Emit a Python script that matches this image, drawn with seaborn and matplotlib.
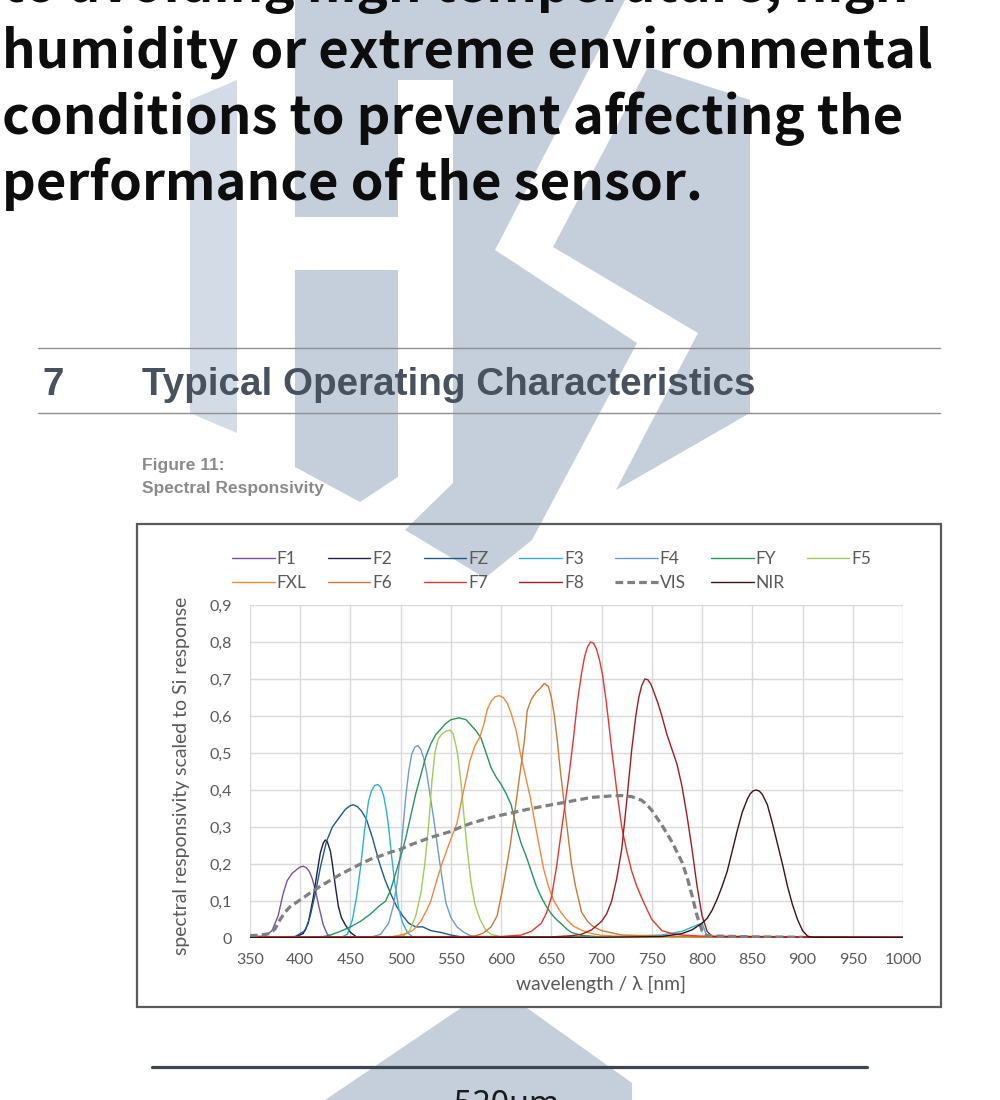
import matplotlib
matplotlib.use("Agg")
import matplotlib.pyplot as plt
import seaborn as sns
from matplotlib.patches import Polygon, Rectangle
from matplotlib.ticker import FuncFormatter

# ---- spectral responsivity curves ----
f1_nm = [350, 365, 372, 378, 383, 387, 392, 397, 400, 403, 406, 409, 412, 415, 419, 423, 427, 432, 500, 600, 700,
         800, 900, 1000]
f1_val = [0.004, 0.005, 0.02, 0.06, 0.12, 0.155, 0.175, 0.186, 0.192, 0.194, 0.19, 0.18, 0.16, 0.13, 0.08, 0.035,
          0.01, 0.002, 0.001, 0.001, 0.002, 0.002, 0.001, 0.001]

f2_nm = [350, 395, 403, 408, 413, 417, 420, 423, 425, 427, 430, 432, 435, 438, 441, 445, 450, 456, 500, 600, 700,
         800, 900, 1000]
f2_val = [0.002, 0.003, 0.012, 0.04, 0.11, 0.18, 0.23, 0.257, 0.265, 0.26, 0.235, 0.2, 0.14, 0.085, 0.055, 0.035,
          0.015, 0.003, 0.001, 0.001, 0.001, 0.001, 0.001, 0.001]

fz_nm = [350, 395, 405, 410, 415, 420, 426, 432, 440, 445, 450, 453, 457, 461, 466, 472, 478, 484, 490, 496, 502,
         508, 515, 522, 530, 540, 550, 560, 650, 800, 1000]
fz_val = [0.002, 0.004, 0.02, 0.06, 0.12, 0.19, 0.26, 0.3, 0.33, 0.348, 0.358, 0.36, 0.355, 0.343, 0.32, 0.27,
          0.21, 0.16, 0.12, 0.085, 0.06, 0.04, 0.03, 0.03, 0.02, 0.015, 0.008, 0.003, 0.002, 0.002, 0.001]

f3_nm = [350, 440, 447, 452, 456, 460, 464, 468, 471, 474, 477, 480, 483, 486, 488, 491, 494, 498, 502, 507, 512,
         600, 700, 760, 780, 795, 800, 805, 1000]
f3_val = [0.001, 0.001, 0.01, 0.05, 0.11, 0.19, 0.29, 0.37, 0.398, 0.412, 0.415, 0.408, 0.385, 0.34, 0.3, 0.22,
          0.15, 0.08, 0.04, 0.014, 0.003, 0.002, 0.003, 0.008, 0.018, 0.035, 0.04, 0.003, 0.001]

f4_nm = [350, 470, 480, 488, 493, 497, 501, 505, 508, 511, 514, 517, 520, 523, 526, 529, 533, 537, 541, 545, 550,
         556, 563, 572, 700, 1000]
f4_val = [0.001, 0.002, 0.01, 0.04, 0.09, 0.16, 0.26, 0.38, 0.45, 0.497, 0.516, 0.52, 0.51, 0.485, 0.445, 0.39,
          0.32, 0.24, 0.165, 0.095, 0.055, 0.03, 0.015, 0.003, 0.002, 0.001]

fy_nm = [350, 420, 430, 440, 450, 460, 470, 478, 485, 490, 495, 500, 505, 510, 515, 520, 525, 530, 535, 540, 545,
         550, 558, 565, 570, 575, 580, 585, 590, 595, 600, 605, 610, 615, 620, 625, 630, 635, 640, 645, 650, 655,
         660, 665, 670, 680, 700, 800, 1000]
fy_val = [0.001, 0.002, 0.008, 0.018, 0.03, 0.045, 0.065, 0.085, 0.1, 0.13, 0.175, 0.22, 0.27, 0.33, 0.39, 0.44,
          0.49, 0.525, 0.55, 0.565, 0.58, 0.59, 0.595, 0.59, 0.575, 0.56, 0.54, 0.5, 0.46, 0.435, 0.415, 0.39, 0.36,
          0.3, 0.255, 0.22, 0.18, 0.14, 0.11, 0.085, 0.065, 0.05, 0.038, 0.025, 0.015, 0.007, 0.003, 0.002, 0.001]

f5_nm = [350, 495, 503, 509, 515, 520, 524, 528, 531, 534, 537, 540, 543, 546, 549, 552, 555, 557, 560, 563, 566,
         570, 574, 579, 585, 590, 600, 1000]
f5_val = [0.001, 0.002, 0.007, 0.02, 0.06, 0.12, 0.2, 0.31, 0.42, 0.5, 0.535, 0.548, 0.555, 0.56, 0.562, 0.553,
          0.52, 0.49, 0.42, 0.33, 0.245, 0.15, 0.09, 0.05, 0.02, 0.01, 0.003, 0.001]

fxl_nm = [350, 490, 500, 505, 512, 520, 526, 530, 536, 541, 546, 551, 556, 562, 569, 574, 579, 583, 586, 590, 594,
          598, 602, 606, 610, 615, 619, 624, 629, 635, 642, 647, 652, 658, 665, 672, 681, 690, 700, 720, 800, 1000]
fxl_val = [0.001, 0.003, 0.008, 0.012, 0.02, 0.045, 0.076, 0.1, 0.157, 0.2, 0.238, 0.275, 0.31, 0.39, 0.48, 0.52,
           0.544, 0.58, 0.616, 0.64, 0.652, 0.655, 0.65, 0.635, 0.607, 0.56, 0.5, 0.44, 0.38, 0.29, 0.19, 0.14,
           0.103, 0.075, 0.05, 0.032, 0.02, 0.012, 0.007, 0.004, 0.003, 0.001]

f6_nm = [350, 560, 575, 582, 590, 596, 602, 609, 615, 620, 623, 626, 630, 635, 639, 643, 647, 650, 653, 656, 659,
         662, 666, 670, 674, 680, 686, 692, 700, 720, 800, 1000]
f6_val = [0.001, 0.002, 0.006, 0.013, 0.03, 0.06, 0.14, 0.25, 0.37, 0.47, 0.53, 0.615, 0.645, 0.665, 0.675, 0.688,
          0.68, 0.65, 0.6, 0.53, 0.45, 0.38, 0.29, 0.2, 0.14, 0.07, 0.045, 0.03, 0.02, 0.008, 0.003, 0.001]

f7_nm = [350, 600, 620, 630, 640, 645, 650, 655, 660, 664, 668, 672, 676, 680, 683, 686, 689, 692, 695, 698, 701,
         705, 710, 715, 720, 725, 730, 735, 740, 745, 750, 760, 770, 780, 800, 1000]
f7_val = [0.003, 0.004, 0.008, 0.018, 0.04, 0.067, 0.11, 0.19, 0.29, 0.37, 0.45, 0.54, 0.64, 0.715, 0.76, 0.787,
          0.8, 0.797, 0.78, 0.75, 0.71, 0.63, 0.51, 0.4, 0.3, 0.235, 0.18, 0.14, 0.108, 0.078, 0.05, 0.02, 0.012,
          0.008, 0.005, 0.002]

f8_nm = [350, 650, 670, 680, 690, 700, 705, 710, 715, 720, 725, 730, 734, 737, 740, 743, 746, 749, 752, 756, 760,
         765, 770, 775, 780, 785, 790, 795, 800, 805, 810, 900, 1000]
f8_val = [0.002, 0.003, 0.006, 0.01, 0.022, 0.045, 0.065, 0.1, 0.16, 0.24, 0.37, 0.51, 0.6, 0.65, 0.683, 0.7,
          0.698, 0.686, 0.665, 0.635, 0.6, 0.55, 0.51, 0.47, 0.41, 0.33, 0.24, 0.14, 0.06, 0.018, 0.004, 0.002, 0.001]

vis_nm = [350, 360, 370, 375, 380, 385, 390, 400, 410, 420, 430, 440, 450, 460, 470, 480, 490, 500, 510, 520, 530,
          540, 550, 560, 570, 580, 590, 600, 610, 620, 630, 640, 650, 660, 670, 680, 690, 700, 710, 720, 730, 740,
          745, 750, 760, 770, 780, 785, 790, 795, 800, 805, 850, 900]
vis_val = [0.006, 0.008, 0.012, 0.025, 0.05, 0.07, 0.085, 0.103, 0.122, 0.14, 0.156, 0.172, 0.186, 0.2, 0.213,
           0.222, 0.232, 0.24, 0.252, 0.262, 0.272, 0.28, 0.288, 0.3, 0.31, 0.318, 0.326, 0.332, 0.338, 0.344, 0.35,
           0.355, 0.36, 0.365, 0.37, 0.375, 0.38, 0.382, 0.384, 0.385, 0.382, 0.372, 0.36, 0.345, 0.305, 0.26,
           0.205, 0.165, 0.115, 0.06, 0.02, 0.006, 0.003, 0.002]

nir_nm = [350, 700, 760, 780, 790, 800, 805, 810, 815, 820, 825, 830, 835, 840, 845, 848, 851, 854, 857, 860, 865,
          870, 875, 880, 885, 890, 895, 900, 905, 910, 1000]
nir_val = [0.001, 0.002, 0.004, 0.012, 0.022, 0.04, 0.053, 0.075, 0.105, 0.14, 0.18, 0.235, 0.29, 0.34, 0.375,
           0.39, 0.398, 0.4, 0.397, 0.388, 0.36, 0.31, 0.255, 0.2, 0.14, 0.09, 0.05, 0.02, 0.005, 0.002, 0.002]

channels = ["F1", "F2", "FZ", "F3", "F4", "FY", "F5", "FXL", "F6", "F7", "F8", "VIS", "NIR"]
curves = {
    "F1": (f1_nm, f1_val), "F2": (f2_nm, f2_val), "FZ": (fz_nm, fz_val), "F3": (f3_nm, f3_val),
    "F4": (f4_nm, f4_val), "FY": (fy_nm, fy_val), "F5": (f5_nm, f5_val), "FXL": (fxl_nm, fxl_val),
    "F6": (f6_nm, f6_val), "F7": (f7_nm, f7_val), "F8": (f8_nm, f8_val), "VIS": (vis_nm, vis_val),
    "NIR": (nir_nm, nir_val),
}
colors = {
    "F1": "#7b4fa0", "F2": "#1b1f4b", "FZ": "#1f5a8c", "F3": "#2bb0dc", "F4": "#6d9ccc", "FY": "#27955a",
    "F5": "#9ccc5c", "FXL": "#f0883a", "F6": "#c97a34", "F7": "#e8352f", "F8": "#a01c22", "VIS": "#7f7f7f",
    "NIR": "#3a1214",
}
legend_row1 = ["F1", "F2", "FZ", "F3", "F4", "FY", "F5"]
legend_row2 = ["FXL", "F6", "F7", "F8", "VIS", "NIR"]
x_ticks = list(range(350, 1001, 50))
y_ticks = [0, 0.1, 0.2, 0.3, 0.4, 0.5, 0.6, 0.7, 0.8, 0.9]

body_lines = [
    "to avoiding high temperature, high",
    "humidity or extreme environmental",
    "conditions to prevent affecting the",
    "performance of the sensor.",
]

sns.set_theme(style="white")
plt.rcParams['font.family'] = ['Lato', 'DejaVu Sans']

fig = plt.figure(figsize=(10, 11), dpi=100)
renderer = fig.canvas.get_renderer()


def fit(t, px, vertical=False):
    bb = t.get_window_extent(renderer)
    cur = bb.height if vertical else bb.width
    t.set_fontsize(t.get_fontsize() * px / cur)


# page layer in pixel coordinates (y down)
page = fig.add_axes([0, 0, 1, 1])
page.set_xlim(0, 1000)
page.set_ylim(1100, 0)
page.axis('off')

# watermark logo
wm = "#c4cfdb"
page.add_patch(Polygon([(190, 100), (237, 80), (237, 433), (190, 413)], closed=True, fc="#d3dce6", ec="none", zorder=0))
page.add_patch(Polygon([(295, 0), (398, 0), (398, 217), (295, 217)], closed=True, fc=wm, ec="none", zorder=0))
page.add_patch(Polygon([(295, 270), (398, 270), (398, 477), (360, 502), (295, 467)], closed=True, fc=wm, ec="none", zorder=0))
# left band of the S, bridged to the middle column at the top
page.add_patch(Polygon([(398, 0), (625, 0), (613, 23), (495, 250), (637, 343), (532, 540), (485, 578), (405, 530),
                        (453, 483), (453, 80), (398, 80)], closed=True, fc=wm, ec="none", zorder=0))
# right band of the S
page.add_patch(Polygon([(648, 67), (750, 100), (750, 413), (616, 490), (698, 333), (553, 247)],
                       closed=True, fc=wm, ec="none", zorder=0))
page.add_patch(Polygon([(461, 1008), (527, 1008), (632, 1083), (632, 1100), (325, 1100)], closed=True, fc=wm, ec="none", zorder=0))

# body text
body_font = ['Noto Sans CJK SC', 'DejaVu Sans']
body = []
for i, line in enumerate(body_lines):
    t = page.text(2, 2 + 66 * i, line, family=body_font, weight='bold', fontsize=40,
                  color='#0d0d0d', va='baseline', ha='left', zorder=3)
    body.append(t)
fit(body[1], 930)
for t in body:
    t.set_fontsize(body[1].get_fontsize())

# section header
page.plot([38, 940], [348, 348], color='#8f8f8f', lw=1.0, zorder=2)
page.plot([38, 940], [413, 413], color='#8f8f8f', lw=1.0, zorder=2)
hdr = page.text(142, 395, "Typical Operating Characteristics", family=['Liberation Sans', 'DejaVu Sans'],
                weight='bold', fontsize=28, color='#48525e', va='baseline', zorder=3)
fit(hdr, 613)
page.text(42, 395, "7", family=['Liberation Sans', 'DejaVu Sans'], weight='bold',
          fontsize=hdr.get_fontsize(), color='#48525e', va='baseline', zorder=3)

# figure caption
cap_font = ['Liberation Sans Narrow', 'Liberation Sans', 'DejaVu Sans']
cap2 = page.text(142, 493, "Spectral Responsivity", family=cap_font, weight='bold', fontsize=12,
                 color='#8a8a8a', va='baseline', zorder=3)
fit(cap2, 181)
page.text(142, 470, "Figure 11:", family=cap_font, weight='bold', fontsize=cap2.get_fontsize(),
          color='#8a8a8a', va='baseline', zorder=3)

# chart frame
page.add_patch(Rectangle((137, 524), 804, 483, fill=False, ec='#5a5a5a', lw=1.6, zorder=2))

# bottom of page
page.plot([152, 867], [1067, 1067], color='#3d4650', lw=2.3, zorder=2)
t520 = page.text(507, 1089, "520um", family=['Noto Sans', 'DejaVu Sans'], fontsize=22, color='#1a1a1a',
                 ha='center', va='top', zorder=3)
fit(t520, 105)

# ---- the chart ----
ax = fig.add_axes([250 / 1000, 1 - 938 / 1100, 653 / 1000, 333 / 1100])
ax.set_facecolor('white')
for name in channels:
    nm, val = curves[name]
    if name == "VIS":
        sns.lineplot(x=nm, y=val, ax=ax, color=colors[name], lw=2.3, linestyle=(0, (2.4, 1.3)),
                     label=name, zorder=3)
    else:
        sns.lineplot(x=nm, y=val, ax=ax, color=colors[name], lw=1.0, label=name, zorder=3)

ax.set_xlim(350, 1000)
ax.set_ylim(0, 0.9)
ax.set_xticks(x_ticks)
ax.set_yticks(y_ticks)
ax.yaxis.set_major_formatter(FuncFormatter(lambda v, p: "0" if abs(v) < 1e-9 else f"{v:.1f}".replace('.', ',')))
ax.grid(True, color='#d9d9d9', lw=1.0)
ax.set_axisbelow(True)
for s in ax.spines.values():
    s.set_visible(False)
ax.tick_params(axis='both', length=0, labelsize=11.5, labelcolor='#595959')
ax.tick_params(axis='y', pad=13)
ax.tick_params(axis='x', pad=11)

ax.set_xlabel("wavelength / λ [nm]", fontsize=12, color='#595959')
ax.set_ylabel("spectral responsivity scaled to Si response", fontsize=12, color='#595959')
ax.xaxis.set_label_coords((601 - 250) / 653, (938 - 976) / 333)
ax.yaxis.set_label_coords((190 - 250) / 653, (938 - 776) / 333)
fit(ax.xaxis.label, 170)
fit(ax.yaxis.label, 357, vertical=True)

# legend: one small legend per column so the columns sit on an even grid like the original
handles, labels = ax.get_legend_handles_labels()
by_label = dict(zip(labels, handles))
legends = []
for i, top in enumerate(legend_row1):
    names = [top] + ([legend_row2[i]] if i < len(legend_row2) else [])
    leg = ax.legend([by_label[k] for k in names], names, loc='upper left',
                    bbox_to_anchor=((232 + 95.8 * i) / 1000, 1 - 551 / 1100), bbox_transform=fig.transFigure,
                    frameon=False, fontsize=12.5, handlelength=2.45, handletextpad=0.12,
                    labelspacing=0.45, borderpad=0, borderaxespad=0)
    for t in leg.get_texts():
        t.set_color('#595959')
    legends.append(leg)
for leg in legends[:-1]:
    ax.add_artist(leg)

fig.savefig("out.png", dpi=100, facecolor='white')
